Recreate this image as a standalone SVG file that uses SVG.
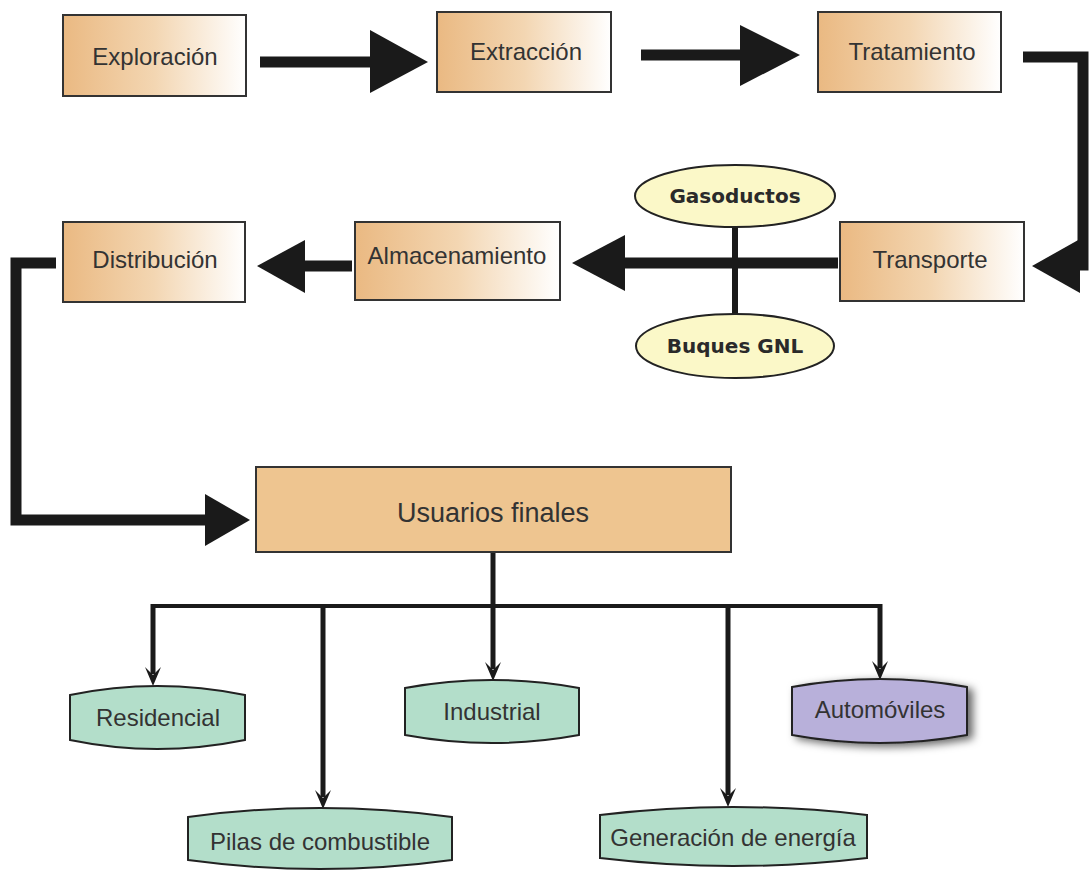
<svg xmlns="http://www.w3.org/2000/svg" width="1089" height="871" viewBox="0 0 1089 871">
<defs>
<linearGradient id="g" x1="0" y1="0" x2="1" y2="0">
<stop offset="0" stop-color="#EAB982"/>
<stop offset="0.5" stop-color="#F3D6B2"/>
<stop offset="1" stop-color="#FFFFFF"/>
</linearGradient>
<filter id="sh" x="-20%" y="-30%" width="150%" height="170%">
<feDropShadow dx="5" dy="3" stdDeviation="4" flood-color="#000" flood-opacity="0.6"/>
</filter>
</defs>
<style>
.box{fill:url(#g);stroke:#333;stroke-width:2}
.usr{fill:#EEC590;stroke:#333;stroke-width:2}
.ell{fill:#FBF8C8;stroke:#222;stroke-width:2}
.tl{fill:#B3DECA;stroke:#222;stroke-width:2}
.pu{fill:#B8B0DA;stroke:#222;stroke-width:2}
.t{font-family:"Liberation Sans",Arial,sans-serif;font-size:24px;fill:#333;text-anchor:middle}
.b{font-family:"DejaVu Sans",sans-serif;font-weight:bold;font-size:20px;fill:#2a2a2a;text-anchor:middle}
.thick{fill:none;stroke:#1a1a1a;stroke-width:11}
.thin{fill:none;stroke:#1a1a1a;stroke-width:5}
.hd{fill:#1a1a1a}
</style>
<rect width="1089" height="871" fill="#fff"/>

<g id="connectors">
<line class="thick" x1="260" y1="62" x2="374" y2="62"/>
<polygon class="hd" points="370,30 428,62 370,93"/>
<line class="thick" x1="641" y1="55" x2="744" y2="55"/>
<polygon class="hd" points="740,25 800,55 740,86"/>
<path class="thick" d="M1023,57 H1083 V265 H1074"/>
<polygon class="hd" points="1080,239 1032,266 1080,293"/>
<line class="thick" stroke-width="12" x1="838" y1="263" x2="620" y2="263"/>
<polygon class="hd" points="625,235 572,263 625,291"/>
<line style="stroke:#1a1a1a;stroke-width:6" x1="735" y1="227" x2="735" y2="314"/>
<line class="thick" stroke-width="12" x1="352" y1="266" x2="300" y2="266"/>
<polygon class="hd" points="305,240 257,266 305,293"/>
<path class="thick" d="M56,263 H16 V520 H210"/>
<polygon class="hd" points="205,494 250,520 205,546"/>
<line class="thin" x1="493" y1="552" x2="493" y2="608"/>
<line style="stroke:#1a1a1a;stroke-width:4" x1="151" y1="606" x2="882" y2="606"/>
<line class="thin" x1="153" y1="604" x2="153" y2="674"/>
<polygon class="hd" points="145,667 153,675 161,667 153,686"/>
<line class="thin" x1="323" y1="604" x2="323" y2="797"/>
<polygon class="hd" points="315,790 323,798 331,790 323,809"/>
<line class="thin" x1="493" y1="604" x2="493" y2="669"/>
<polygon class="hd" points="485,662 493,670 501,662 493,681"/>
<line class="thin" x1="728" y1="604" x2="728" y2="795"/>
<polygon class="hd" points="720,788 728,796 736,788 728,807"/>
<line class="thin" x1="880" y1="604" x2="880" y2="668"/>
<polygon class="hd" points="872,661 880,669 888,661 880,680"/>
</g>

<g id="exploracion"><rect class="box" x="63" y="15" width="183" height="81"/><text class="t" x="155" y="65">Exploración</text></g>
<g id="extraccion"><rect class="box" x="437" y="12" width="174" height="80"/><text class="t" x="526" y="60">Extracción</text></g>
<g id="tratamiento"><rect class="box" x="818" y="12" width="183" height="80"/><text class="t" x="912" y="60">Tratamiento</text></g>
<g id="transporte"><rect class="box" x="840" y="222" width="184" height="79"/><text class="t" x="930" y="268">Transporte</text></g>
<g id="gasoductos"><ellipse class="ell" cx="735" cy="196" rx="100" ry="31"/><text class="b" x="735" y="203">Gasoductos</text></g>
<g id="buques"><ellipse class="ell" cx="735" cy="346" rx="99" ry="32"/><text class="b" x="735" y="353">Buques GNL</text></g>
<g id="almacenamiento"><rect class="box" x="355" y="222" width="205" height="78"/><text class="t" x="457" y="264">Almacenamiento</text></g>
<g id="distribucion"><rect class="box" x="63" y="222" width="182" height="80"/><text class="t" x="155" y="268">Distribución</text></g>
<g id="usuarios"><rect class="usr" x="256" y="467" width="475" height="85"/><text class="t" style="font-size:27px" x="493" y="522">Usuarios finales</text></g>
<g id="residencial"><path class="tl" d="M70,695 Q157,677 245,695 V740 Q157,758 70,740 Z"/><text class="t" x="158" y="726">Residencial</text></g>
<g id="pilas"><path class="tl" d="M188,817 Q320,799 452,817 V860 Q320,878 188,860 Z"/><text class="t" x="320" y="850">Pilas de combustible</text></g>
<g id="industrial"><path class="tl" d="M405,688 Q492,672 579,688 V735 Q492,751 405,735 Z"/><text class="t" x="492" y="720">Industrial</text></g>
<g id="generacion"><path class="tl" d="M600,815 Q733,799 867,815 V858 Q733,874 600,858 Z"/><text class="t" x="733" y="846">Generación de energía</text></g>
<g id="automoviles"><path class="pu" filter="url(#sh)" d="M792,687 Q880,671 967,687 V735 Q880,751 792,735 Z"/><text class="t" x="880" y="718">Automóviles</text></g>
</svg>
